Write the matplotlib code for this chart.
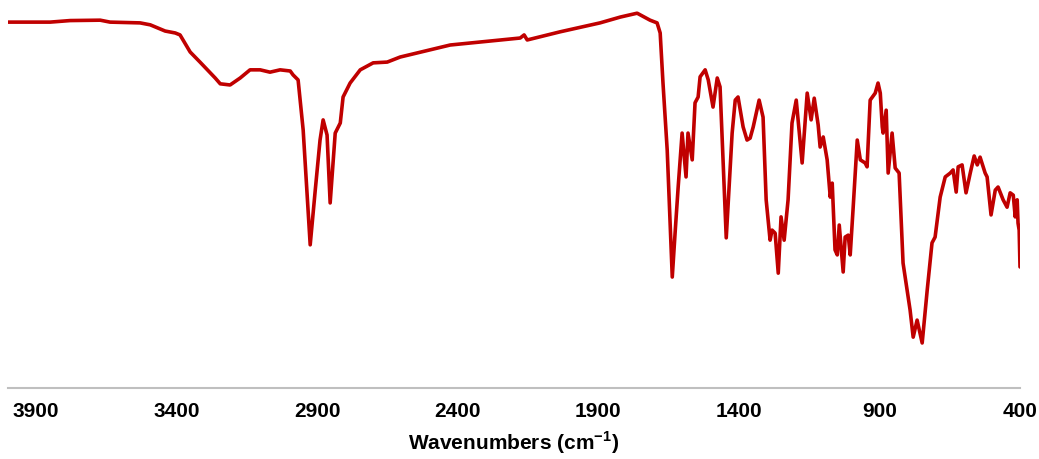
import matplotlib
matplotlib.use("Agg")
import matplotlib.pyplot as plt

plt.rcParams['font.family'] = ['Liberation Sans', 'DejaVu Sans']
plt.rcParams['mathtext.fontset'] = 'custom'
plt.rcParams['mathtext.rm'] = 'Liberation Sans'
plt.rcParams['mathtext.bf'] = 'Liberation Sans:bold'

# FTIR spectrum: wavenumber (cm-1) and transmittance (%)
wavenumber = [
    4000, 3921, 3850, 3779, 3672, 3637, 3530, 3494, 3441, 3405, 3388, 3352,
    3317, 3263, 3245, 3210, 3174, 3139, 3103, 3068, 3032, 2996, 2986, 2968,
    2950, 2925, 2907, 2890, 2879, 2865, 2854, 2836, 2818, 2808, 2783, 2747,
    2701, 2651, 2605, 2427, 2249, 2178, 2164, 2153, 2036, 1894, 1822, 1762,
    1716, 1691, 1680, 1670, 1655, 1637, 1627, 1616, 1602, 1588, 1581, 1566,
    1556, 1545, 1538, 1520, 1509, 1492, 1477, 1467, 1445, 1424, 1413, 1403,
    1385, 1371, 1360, 1349, 1328, 1314, 1303, 1289, 1282, 1271, 1260, 1250,
    1239, 1225, 1211, 1196, 1175, 1157, 1143, 1132, 1118, 1111, 1100, 1086,
    1075, 1068, 1058, 1050, 1043, 1029, 1022, 1011, 1004, 994, 979, 968,
    951, 944, 933, 915, 905, 897, 890, 887, 876, 869, 855, 844,
    830, 816, 791, 780, 766, 748, 730, 713, 702, 684, 666, 648,
    638, 627, 620, 606, 592, 577, 563, 552, 542, 524, 517, 503,
    488, 478, 460, 446, 435, 424, 417, 410, 407, 403, 400,
]
transmittance = [
    94.3, 94.3, 94.3, 94.7, 94.8, 94.3, 94.1, 93.6, 92.0, 91.5, 91.0, 86.6,
    84.0, 79.9, 78.4, 78.1, 79.9, 82.0, 82.0, 81.4, 82.0, 81.7, 80.7, 79.4,
    66.5, 36.9, 51.0, 63.9, 69.1, 65.2, 47.7, 65.7, 68.3, 75.0, 78.6, 82.0,
    83.8, 84.0, 85.3, 88.4, 89.7, 90.2, 91.0, 89.7, 91.8, 94.1, 95.6, 96.6,
    94.8, 94.1, 91.5, 78.6, 61.3, 28.6, 39.9, 51.8, 65.7, 54.4, 65.7, 58.8,
    73.5, 75.0, 80.2, 82.0, 79.4, 72.4, 79.9, 77.6, 38.7, 65.7, 74.2, 75.0,
    67.3, 63.9, 64.4, 67.3, 74.2, 69.8, 48.5, 38.1, 40.7, 39.9, 29.6, 44.1,
    38.1, 48.5, 68.3, 74.2, 58.0, 76.0, 69.1, 74.7, 67.8, 62.1, 64.7, 58.8,
    49.2, 52.8, 35.6, 34.3, 42.0, 29.9, 38.9, 39.4, 34.3, 45.9, 63.9, 58.8,
    58.0, 57.0, 74.2, 76.0, 78.6, 76.0, 67.3, 65.7, 71.6, 55.4, 65.7, 56.7,
    55.4, 32.2, 20.1, 13.1, 17.5, 11.6, 25.3, 37.4, 38.9, 49.2, 54.4, 55.4,
    56.2, 50.5, 57.0, 57.5, 50.3, 55.4, 59.8, 57.5, 59.5, 55.4, 54.4, 44.6,
    51.0, 51.8, 48.5, 46.6, 50.3, 49.7, 44.1, 48.5, 42.5, 40.7, 31.2,
]
tick_values = [3900, 3400, 2900, 2400, 1900, 1400, 900, 400]

fig = plt.figure(figsize=(10.39, 4.59), dpi=100)
ax = fig.add_axes([8 / 1039, 71 / 459, 1012 / 1039, 388 / 459])

ax.plot(wavenumber, transmittance, color='#C00000', linewidth=2.6,
        solid_joinstyle='round', solid_capstyle='round')

ax.set_xlim(4000, 400)
ax.set_ylim(0, 100)
ax.set_xticks(tick_values)
ax.set_xticklabels([str(t) for t in tick_values], fontsize=15, fontweight='bold')
ax.tick_params(axis='x', length=0, pad=10)
ax.set_yticks([])

for side in ['top', 'left', 'right']:
    ax.spines[side].set_visible(False)
ax.spines['bottom'].set_color('#BFBFBF')
ax.spines['bottom'].set_linewidth(1.5)

ax.set_xlabel(r'Wavenumbers (cm$^{\mathbf{-1}}$)', fontsize=15,
              fontweight='bold', labelpad=6)

fig.savefig('out.png', dpi=100)
